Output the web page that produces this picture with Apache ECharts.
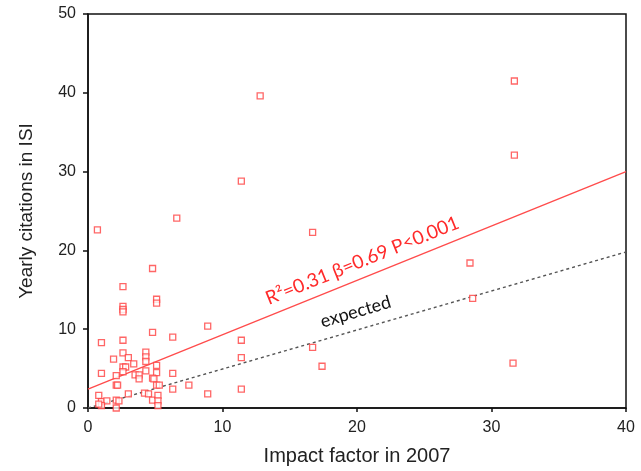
<!DOCTYPE html>
<html>
<head>
<meta charset="utf-8">
<script src="https://cdn.jsdelivr.net/npm/echarts@6/dist/echarts.min.js"></script>
<style>
  html, body { margin: 0; padding: 0; background: #fff; }
  #chart { width: 641px; height: 471px; }
</style>
</head>
<body>
<div id="chart"></div>
<script>
// impact factor vs yearly citations
const points = [
  [0.7, 22.6], [12.8, 39.6], [11.4, 28.8], [6.6, 24.1], [16.7, 22.3],
  [31.7, 41.5], [31.7, 32.1], [28.4, 18.4], [28.6, 13.9], [31.6, 5.7],
  [17.4, 5.3], [16.7, 7.7], [11.4, 8.6], [11.4, 6.4], [11.4, 2.4],
  [8.9, 10.4], [8.9, 1.8], [7.5, 2.9], [6.3, 9.0], [6.3, 4.4], [6.3, 2.4],
  [4.8, 17.7], [2.6, 15.4], [2.6, 12.9], [2.6, 12.5], [2.6, 12.2],
  [5.1, 13.8], [5.1, 13.3], [4.8, 9.6], [1.0, 8.3], [2.6, 8.6],
  [4.3, 7.1], [4.3, 6.5], [4.3, 5.9], [2.6, 7.0], [3.0, 6.4], [1.9, 6.2],
  [3.4, 5.6], [5.1, 5.4], [2.6, 5.2], [2.8, 5.2], [4.3, 4.7], [2.6, 4.6],
  [1.0, 4.4], [2.1, 4.1], [3.5, 4.2], [3.8, 4.2], [5.1, 4.5], [3.8, 3.7],
  [4.8, 3.8], [4.9, 3.7], [2.1, 2.9], [2.2, 2.9], [5.1, 2.9], [5.3, 2.9],
  [0.8, 1.6], [3.0, 1.8], [4.2, 1.9], [4.5, 1.8], [4.8, 1.0], [5.2, 1.6],
  [1.0, 0.8], [1.4, 0.9], [2.1, 1.0], [2.3, 0.9], [5.2, 0.9], [1.0, 0.3],
  [2.1, 0.0], [5.2, 0.3], [0.8, 0.5]
];
// regression line and expected line endpoints
const fitLine = [[0, 2.4], [40, 30.0]];
const expectedLine = [[0, 0], [40, 19.8]];
const xTicks = [0, 10, 20, 30, 40];
const yTicks = [0, 10, 20, 30, 40, 50];

(function () {
  let mychart = echarts.init(document.getElementById('chart'))
  let font = 'Liberation Sans, Arial, sans-serif'
  let option = {
    animation: false,
    grid: {
      left: 88, right: 15, top: 14, bottom: 61,
      show: true, borderColor: '#111', borderWidth: 1.5
    },
    xAxis: {
      type: 'value',
      min: xTicks[0], max: xTicks[xTicks.length - 1], interval: 10,
      name: 'Impact factor in 2007',
      nameLocation: 'middle',
      nameGap: 38,
      nameTextStyle: { fontFamily: font, fontSize: 20, color: '#222' },
      axisLine: { lineStyle: { color: '#111', width: 1.5 } },
      axisTick: { length: 4, lineStyle: { color: '#111', width: 1.5 } },
      axisLabel: { fontFamily: font, fontSize: 16, color: '#222', margin: 12 },
      splitLine: { show: false }
    },
    yAxis: {
      type: 'value',
      min: yTicks[0], max: yTicks[yTicks.length - 1], interval: 10,
      name: 'Yearly citations in ISI',
      nameLocation: 'middle',
      nameGap: 52,
      nameTextStyle: { fontFamily: font, fontSize: 19, color: '#222' },
      axisLine: { lineStyle: { color: '#111', width: 1.5 } },
      axisTick: { length: 5, lineStyle: { color: '#111', width: 1.5 } },
      axisLabel: { fontFamily: font, fontSize: 16, color: '#222', margin: 12 },
      splitLine: { show: false }
    },
    series: [
      {
        type: 'line',
        data: expectedLine,
        symbol: 'none',
        lineStyle: { color: '#555', width: 1.4, type: [3, 3] },
        z: 1
      },
      {
        type: 'line',
        data: fitLine,
        symbol: 'none',
        lineStyle: { color: '#ff4b4b', width: 1.3 },
        z: 1
      },
      {
        type: 'scatter',
        data: points,
        symbol: 'rect',
        symbolSize: 6,
        itemStyle: { color: '#fff', borderColor: '#ff4040', borderWidth: 1.3 },
        z: 3
      }
    ]
  }
  mychart.setOption(option)

  // 文本沿着线放
  let p1 = mychart.convertToPixel({ gridIndex: 0 }, [20.4, 18.7])
  let p2 = mychart.convertToPixel({ gridIndex: 0 }, [19.9, 12.2])
  mychart.setOption({
    graphic: [
      {
        type: 'text', x: p1[0], y: p1[1], rotation: 22 * Math.PI / 180,
        style: {
          text: 'R²=0.31 β=0.69 P<0.001',
          fill: '#ff2a2a', font: '19px Lato, "Open Sans", sans-serif',
          align: 'center', verticalAlign: 'middle'
        }
      },
      {
        type: 'text', x: p2[0], y: p2[1], rotation: 16.5 * Math.PI / 180,
        style: {
          text: 'expected',
          fill: '#111', font: '18px Lato, "Open Sans", sans-serif',
          align: 'center', verticalAlign: 'middle'
        }
      }
    ]
  })
})();
</script>
</body>
</html>
